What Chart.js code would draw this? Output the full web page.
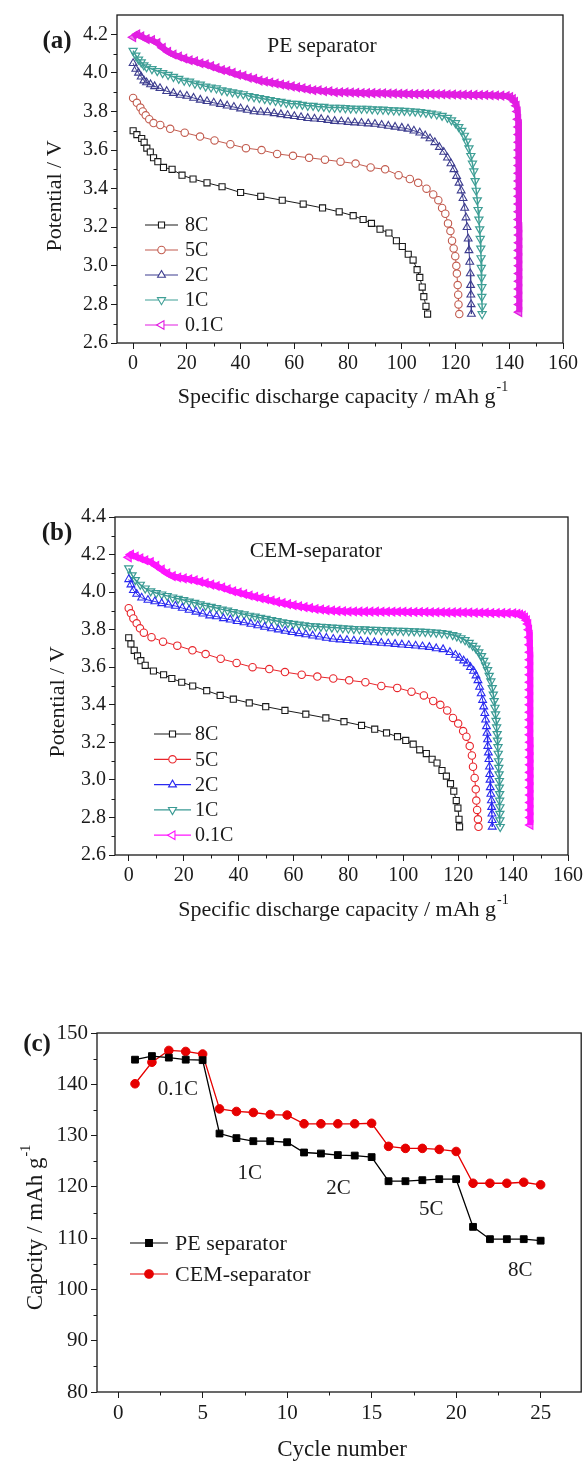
<!DOCTYPE html>
<html>
<head>
<meta charset="utf-8">
<title>Curvas de descarga y capacidad por ciclo</title>
<script src="https://cdn.jsdelivr.net/npm/chart.js@4.4.1/dist/chart.umd.min.js"></script>
<style>
  html, body { margin: 0; padding: 0; background: #fff; }
  body { width: 587px; height: 1462px; position: relative; overflow: hidden; }
  canvas { position: absolute; left: 0; }
  #panelA { top: 0; }
  #panelB { top: 500px; }
  #panelC { top: 960px; }
</style>
</head>
<body>
<canvas id="panelA" width="587" height="430"></canvas>
<canvas id="panelB" width="587" height="430"></canvas>
<canvas id="panelC" width="587" height="502"></canvas>
<script>
// 📊 Datos
const tasas = ["8C", "5C", "2C", "1C", "0.1C"];

// (a) separador PE: capacidad (mAh/g) y potencial (V)
const capA_8C = [0, 1.4, 3.2, 4.1, 5.1, 6.4, 7.6, 9.2, 11.3, 14.5, 18.2, 22.3, 27.5, 33.1, 40.0, 47.5, 55.5, 63.3, 70.5, 76.7, 81.9, 85.6, 88.7, 91.9, 95.2, 98.0, 100.2, 102.4, 104.2, 105.7, 106.7, 107.6, 108.2, 109.0, 109.6];
const potA_8C = [3.70, 3.68, 3.66, 3.64, 3.61, 3.59, 3.56, 3.54, 3.51, 3.50, 3.47, 3.45, 3.43, 3.41, 3.38, 3.36, 3.34, 3.32, 3.30, 3.28, 3.26, 3.24, 3.22, 3.19, 3.17, 3.13, 3.10, 3.06, 3.03, 2.98, 2.94, 2.89, 2.84, 2.79, 2.75];

const capA_5C = [0, 1.4, 2.7, 3.6, 4.7, 6.0, 7.6, 10.1, 13.8, 19.2, 24.9, 30.3, 36.2, 42.0, 47.8, 53.6, 59.5, 65.5, 71.4, 77.2, 82.8, 88.4, 93.8, 98.8, 103.0, 106.1, 109.2, 111.7, 113.6, 115.0, 116.2, 117.2, 118.1, 118.7, 119.3, 119.9, 120.3, 120.5, 120.8, 121.0, 121.1, 121.4];
const potA_5C = [3.87, 3.845, 3.82, 3.80, 3.78, 3.76, 3.74, 3.73, 3.71, 3.69, 3.67, 3.65, 3.63, 3.61, 3.60, 3.58, 3.57, 3.56, 3.55, 3.54, 3.53, 3.51, 3.50, 3.47, 3.45, 3.43, 3.40, 3.37, 3.34, 3.30, 3.27, 3.22, 3.18, 3.13, 3.09, 3.05, 3.00, 2.96, 2.90, 2.85, 2.80, 2.75];

const capA_2C = [0, 1, 2, 3, 4, 5, 6.5, 8, 10, 12.5, 15, 17.5, 20, 22.5, 25, 27.5, 30, 32.5, 35, 37.5, 40, 42.5, 45, 47.5, 50, 52.5, 55, 57.5, 60, 62.5, 65, 67.5, 70, 72.5, 75, 77.5, 80, 82.5, 85, 87.5, 90, 92.5, 95, 97.5, 100, 102.3, 104.5, 106.7, 108.7, 110.5, 112.3, 114, 115.6, 117, 118.3, 119.4, 120.4, 121.3, 122.1, 122.8, 123.4, 123.9, 124.3, 124.7, 125.0, 125.3, 125.5, 125.6, 125.7, 125.8, 125.9];
const potA_2C = [4.05, 4.02, 4.00, 3.98, 3.96, 3.95, 3.94, 3.93, 3.92, 3.905, 3.895, 3.885, 3.88, 3.87, 3.86, 3.853, 3.845, 3.838, 3.83, 3.823, 3.815, 3.808, 3.80, 3.797, 3.795, 3.79, 3.785, 3.78, 3.775, 3.77, 3.765, 3.762, 3.76, 3.755, 3.75, 3.748, 3.745, 3.742, 3.74, 3.737, 3.735, 3.73, 3.725, 3.72, 3.715, 3.71, 3.70, 3.69, 3.675, 3.66, 3.64, 3.615, 3.59, 3.56, 3.53, 3.50, 3.465, 3.43, 3.39, 3.35, 3.30, 3.25, 3.20, 3.14, 3.08, 3.02, 2.96, 2.90, 2.85, 2.80, 2.75];

const capA_1C = [0, 1, 2, 3, 4, 5, 7, 9, 11, 13, 15, 17, 19, 21, 23, 25, 27, 29, 31, 33, 35, 37, 39, 41, 43, 45, 47, 49, 51, 53, 55, 57, 59, 61, 63, 65, 67, 69, 71, 73, 75, 77, 79, 81, 83, 85, 87, 89, 91, 93, 95, 97, 99, 101, 103, 105, 107, 109, 111, 113, 115, 117, 118.5, 120, 121.2, 122.3, 123.3, 124.2, 125, 125.7, 126.3, 126.8, 127.3, 127.7, 128.1, 128.4, 128.7, 129, 129.2, 129.4, 129.5, 129.6, 129.7, 129.8, 129.8, 129.9, 129.9];
const potA_1C = [4.115, 4.09, 4.07, 4.055, 4.04, 4.03, 4.02, 4.01, 4.00, 3.99, 3.98, 3.97, 3.96, 3.955, 3.945, 3.94, 3.93, 3.925, 3.92, 3.91, 3.905, 3.90, 3.895, 3.89, 3.88, 3.875, 3.87, 3.865, 3.86, 3.855, 3.85, 3.845, 3.84, 3.84, 3.835, 3.83, 3.83, 3.825, 3.825, 3.82, 3.82, 3.82, 3.818, 3.816, 3.815, 3.815, 3.815, 3.812, 3.81, 3.81, 3.808, 3.806, 3.805, 3.804, 3.802, 3.80, 3.797, 3.794, 3.79, 3.785, 3.778, 3.768, 3.755, 3.74, 3.72, 3.70, 3.675, 3.645, 3.61, 3.57, 3.53, 3.49, 3.44, 3.39, 3.34, 3.29, 3.24, 3.19, 3.14, 3.09, 3.04, 2.99, 2.94, 2.89, 2.84, 2.79, 2.75];

const capA_01C = [0, 1.5, 3, 5, 7, 9, 11, 13, 15, 17, 19, 21, 23, 25, 27, 29, 31, 33, 35, 37, 39, 41, 43, 45, 47, 49, 51, 53, 55, 57, 59, 61, 63, 65, 67, 69, 71, 73, 75, 77, 79, 81, 83, 85, 87, 89, 91, 93, 95, 97, 99, 101, 103, 105, 107, 109, 111, 113, 115, 117, 119, 121, 123, 125, 127, 129, 131, 133, 135, 137, 139, 140.3, 141.3, 142.1, 142.7, 143.1, 143.3, 143.5, 143.6, 143.6, 143.6, 143.6, 143.6, 143.6, 143.6, 143.6, 143.6, 143.6, 143.6, 143.6, 143.7, 143.7, 143.7, 143.7, 143.7, 143.7, 143.7, 143.7, 143.7, 143.7, 143.7, 143.7];
const potA_01C = [4.185, 4.20, 4.19, 4.175, 4.17, 4.155, 4.13, 4.11, 4.095, 4.085, 4.075, 4.065, 4.06, 4.05, 4.045, 4.035, 4.025, 4.015, 4.01, 4.00, 3.99, 3.985, 3.975, 3.97, 3.96, 3.955, 3.95, 3.945, 3.94, 3.935, 3.93, 3.925, 3.92, 3.915, 3.91, 3.91, 3.905, 3.905, 3.90, 3.90, 3.90, 3.898, 3.897, 3.896, 3.895, 3.895, 3.894, 3.894, 3.893, 3.893, 3.892, 3.892, 3.891, 3.891, 3.89, 3.89, 3.89, 3.889, 3.889, 3.888, 3.888, 3.887, 3.887, 3.886, 3.886, 3.885, 3.885, 3.884, 3.883, 3.882, 3.88, 3.875, 3.865, 3.85, 3.83, 3.80, 3.76, 3.72, 3.68, 3.64, 3.60, 3.56, 3.52, 3.48, 3.44, 3.40, 3.36, 3.32, 3.28, 3.24, 3.20, 3.16, 3.12, 3.08, 3.04, 3.00, 2.96, 2.92, 2.88, 2.84, 2.80, 2.76];

// (b) separador CEM
const capB_8C = [0, 0.8, 2.0, 3.2, 4.4, 6.0, 9.0, 12.7, 15.7, 19.3, 23.3, 28.4, 33.3, 38.1, 43.9, 49.9, 56.9, 64.5, 71.8, 78.4, 84.8, 89.6, 93.9, 97.9, 100.9, 103.6, 106.0, 108.4, 110.5, 112.3, 114.1, 115.7, 117.2, 118.4, 119.3, 119.9, 120.3, 120.5];
const potB_8C = [3.757, 3.724, 3.69, 3.66, 3.635, 3.61, 3.58, 3.56, 3.54, 3.52, 3.50, 3.475, 3.45, 3.43, 3.41, 3.39, 3.37, 3.35, 3.33, 3.31, 3.29, 3.27, 3.25, 3.23, 3.21, 3.19, 3.16, 3.14, 3.11, 3.09, 3.05, 3.02, 2.98, 2.94, 2.89, 2.85, 2.79, 2.75];

const capB_5C = [0, 0.8, 1.7, 2.9, 4.1, 5.5, 8.3, 12.5, 17.7, 23.2, 28.0, 33.5, 39.3, 45.1, 51.2, 56.9, 63.0, 68.7, 74.5, 80.3, 86.2, 92.0, 97.8, 103.0, 107.5, 110.9, 113.5, 116.0, 118.1, 120.0, 121.8, 123.0, 124.2, 125.0, 125.4, 126.0, 126.4, 126.6, 126.9, 127.2, 127.4];
const potB_5C = [3.914, 3.887, 3.86, 3.834, 3.807, 3.784, 3.76, 3.736, 3.715, 3.69, 3.67, 3.645, 3.623, 3.60, 3.59, 3.574, 3.56, 3.55, 3.54, 3.53, 3.52, 3.50, 3.49, 3.47, 3.45, 3.42, 3.40, 3.37, 3.33, 3.30, 3.26, 3.23, 3.18, 3.13, 3.07, 3.01, 2.95, 2.89, 2.84, 2.79, 2.75];

const capB_2C = [0, 0.8, 1.7, 2.9, 4.7, 7, 9.5, 12, 14.5, 17, 19.5, 22, 24.5, 27, 29.5, 32, 34.5, 37, 39.5, 42, 44.5, 47, 49.5, 52, 54.5, 57, 59.5, 62, 64.5, 67, 69.5, 72, 74.5, 77, 79.5, 82, 84.5, 87, 89.5, 92, 94.5, 97, 99.5, 102, 104.5, 107, 109.5, 112, 114.5, 117, 119, 120.5, 122, 123.3, 124.5, 125.6, 126.5, 127.2, 127.8, 128.4, 128.9, 129.3, 129.7, 130, 130.3, 130.5, 130.7, 130.8, 131, 131.2, 131.4, 131.5, 131.6, 131.7, 131.9, 132.1, 132.2, 132.3, 132.4, 132.4];
const potB_2C = [4.068, 4.04, 4.01, 3.99, 3.97, 3.958, 3.95, 3.94, 3.933, 3.926, 3.915, 3.905, 3.895, 3.885, 3.875, 3.87, 3.86, 3.853, 3.845, 3.838, 3.83, 3.822, 3.814, 3.806, 3.80, 3.793, 3.786, 3.78, 3.774, 3.768, 3.762, 3.756, 3.75, 3.747, 3.744, 3.741, 3.738, 3.735, 3.732, 3.729, 3.726, 3.723, 3.72, 3.717, 3.714, 3.71, 3.707, 3.70, 3.695, 3.68, 3.665, 3.65, 3.635, 3.62, 3.60, 3.58, 3.555, 3.53, 3.495, 3.46, 3.425, 3.39, 3.355, 3.32, 3.285, 3.25, 3.215, 3.18, 3.145, 3.11, 3.07, 3.03, 3.00, 2.96, 2.925, 2.89, 2.855, 2.82, 2.785, 2.75];

const capB_1C = [0, 1.2, 2.4, 4.2, 6, 8, 10, 12, 14, 16, 18, 20, 22, 24, 26, 28, 30, 32, 34, 36, 38, 40, 42, 44, 46, 48, 50, 52, 54, 56, 58, 60, 62, 64, 66, 68, 70, 72, 74, 76, 78, 80, 82, 84, 86, 88, 90, 92, 94, 96, 98, 100, 102, 104, 106, 108, 110, 112, 114, 116, 118, 119.5, 121, 122.5, 124, 125.3, 126.5, 127.5, 128.5, 129.3, 130, 130.7, 131.3, 131.9, 132.4, 132.8, 133.1, 133.4, 133.6, 133.8, 134, 134.2, 134.3, 134.5, 134.6, 134.7, 134.8, 134.9, 135, 135, 135.1, 135.1, 135.2, 135.2, 135.2, 135.3];
const potB_1C = [4.127, 4.09, 4.065, 4.04, 4.02, 4.005, 3.995, 3.988, 3.98, 3.972, 3.965, 3.958, 3.95, 3.943, 3.935, 3.928, 3.922, 3.915, 3.908, 3.902, 3.895, 3.888, 3.882, 3.875, 3.87, 3.864, 3.858, 3.852, 3.846, 3.84, 3.836, 3.832, 3.828, 3.824, 3.82, 3.818, 3.816, 3.814, 3.812, 3.81, 3.808, 3.806, 3.804, 3.803, 3.802, 3.80, 3.80, 3.798, 3.797, 3.796, 3.795, 3.794, 3.793, 3.792, 3.79, 3.789, 3.787, 3.785, 3.782, 3.778, 3.772, 3.765, 3.755, 3.745, 3.73, 3.715, 3.70, 3.68, 3.66, 3.635, 3.61, 3.585, 3.555, 3.525, 3.49, 3.455, 3.42, 3.385, 3.35, 3.315, 3.28, 3.245, 3.21, 3.175, 3.14, 3.10, 3.065, 3.03, 2.995, 2.96, 2.925, 2.89, 2.855, 2.82, 2.785, 2.75];

const capB_01C = [0, 0.8, 2.5, 4.2, 6, 8, 10, 12, 14, 16, 18, 20, 22, 24, 26, 28, 30, 32, 34, 36, 38, 40, 42, 44, 46, 48, 50, 52, 54, 56, 58, 60, 62, 64, 66, 68, 70, 72, 74, 76, 78, 80, 82, 84, 86, 88, 90, 92, 94, 96, 98, 100, 102, 104, 106, 108, 110, 112, 114, 116, 118, 120, 122, 124, 126, 128, 130, 132, 134, 136, 138, 140, 141.5, 142.5, 143.5, 144.3, 145, 145.5, 145.8, 146, 146.1, 146.2, 146.2, 146.2, 146.2, 146.2, 146.2, 146.2, 146.2, 146.2, 146.2, 146.2, 146.2, 146.3, 146.3, 146.3, 146.3, 146.3, 146.3, 146.3, 146.3, 146.3, 146.3, 146.3, 146.3];
const potB_01C = [4.185, 4.20, 4.19, 4.18, 4.17, 4.16, 4.14, 4.12, 4.10, 4.085, 4.078, 4.073, 4.068, 4.063, 4.055, 4.048, 4.04, 4.033, 4.025, 4.015, 4.005, 3.998, 3.99, 3.982, 3.975, 3.968, 3.962, 3.955, 3.948, 3.942, 3.936, 3.93, 3.925, 3.92, 3.915, 3.91, 3.907, 3.904, 3.902, 3.90, 3.898, 3.897, 3.897, 3.896, 3.896, 3.896, 3.896, 3.895, 3.895, 3.895, 3.895, 3.895, 3.894, 3.894, 3.894, 3.894, 3.893, 3.893, 3.893, 3.892, 3.892, 3.892, 3.891, 3.891, 3.89, 3.89, 3.89, 3.889, 3.889, 3.888, 3.888, 3.887, 3.885, 3.88, 3.875, 3.865, 3.85, 3.83, 3.80, 3.76, 3.72, 3.68, 3.64, 3.60, 3.56, 3.52, 3.48, 3.44, 3.40, 3.36, 3.32, 3.28, 3.24, 3.20, 3.16, 3.12, 3.08, 3.04, 3.00, 2.96, 2.92, 2.88, 2.84, 2.80, 2.76];

// (c) capacidad por ciclo
const ciclos = [1, 2, 3, 4, 5, 6, 7, 8, 9, 10, 11, 12, 13, 14, 15, 16, 17, 18, 19, 20, 21, 22, 23, 24, 25];
const capPE = [144.8, 145.5, 145.2, 144.8, 144.7, 130.4, 129.5, 128.9, 128.9, 128.7, 126.7, 126.5, 126.2, 126.1, 125.8, 121.1, 121.1, 121.3, 121.5, 121.5, 112.2, 109.8, 109.8, 109.8, 109.5];
const capCEM = [140.1, 144.3, 146.6, 146.4, 145.9, 135.2, 134.7, 134.5, 134.1, 134.0, 132.3, 132.3, 132.3, 132.3, 132.4, 127.9, 127.5, 127.5, 127.3, 126.9, 120.7, 120.7, 120.7, 120.9, 120.4];
const etiquetasC = ["0.1C", "1C", "2C", "5C", "8C"];

// 🔢 Marcas de los ejes
const ticksCap = [0, 20, 40, 60, 80, 100, 120, 140, 160];
const ticksPotA = [2.6, 2.8, 3.0, 3.2, 3.4, 3.6, 3.8, 4.0, 4.2];
const ticksPotB = [2.6, 2.8, 3.0, 3.2, 3.4, 3.6, 3.8, 4.0, 4.2, 4.4];
const ticksCiclo = [0, 5, 10, 15, 20, 25];
const ticksCapC = [80, 90, 100, 110, 120, 130, 140, 150];

const FUENTE = '"Liberation Serif", "Times New Roman", serif';
const TINTA = "#1a1a1a";

// 🎨 Estilos de marcador por tasa (mismo orden que `tasas`)
const marcas = [
  { estilo: "rect", radio: 4.3, giro: 0, linea: 1, trazo: 1.1 },
  { estilo: "circle", radio: 3.7, giro: 0, linea: 1, trazo: 1.1 },
  { estilo: "triangle", radio: 4.5, giro: 0, linea: 1, trazo: 1.1 },
  { estilo: "triangle", radio: 4.7, giro: 180, linea: 1.5, trazo: 1.2 },
  { estilo: "triangle", radio: 4.9, giro: -90, linea: 6, trazo: 1.2 },
];

function seriesDescarga(caps, pots, colores) {
  return tasas.map((nombre, i) => ({
    label: nombre,
    data: caps[i].map((x, j) => ({ x: x, y: pots[i][j] })),
    showLine: true,
    borderColor: colores[i],
    borderWidth: marcas[i].linea,
    pointStyle: marcas[i].estilo,
    pointRotation: marcas[i].giro,
    pointRadius: marcas[i].radio,
    pointBorderWidth: marcas[i].trazo,
    pointBorderColor: colores[i],
    pointBackgroundColor: i < 2 ? "#fff" : i === 4 ? colores[i] + "99" : "rgba(0,0,0,0)",
  }));
}

// ✏️ Texto con superíndice (p. ej. "g-1")
function textoSuper(ctx, base, sup, cx, cy, size, rotado) {
  ctx.save();
  ctx.translate(cx, cy);
  if (rotado) ctx.rotate(-Math.PI / 2);
  const fBase = `${size}px ${FUENTE}`;
  const fSup = `${Math.round(size * 0.62)}px ${FUENTE}`;
  ctx.font = fBase;
  const w1 = ctx.measureText(base).width;
  ctx.font = fSup;
  const w2 = sup ? ctx.measureText(sup).width + 1 : 0;
  const x0 = -(w1 + w2) / 2;
  ctx.fillStyle = TINTA;
  ctx.textAlign = "left";
  ctx.textBaseline = "middle";
  ctx.font = fBase;
  ctx.fillText(base, x0, 0);
  if (sup) {
    ctx.font = fSup;
    ctx.fillText(sup, x0 + w1 + 1, -size * 0.42);
  }
  ctx.restore();
}

function marcaLeyenda(ctx, ds, x, y, relleno) {
  ctx.fillStyle = relleno || ds.pointBackgroundColor;
  ctx.strokeStyle = ds.pointBorderColor;
  ctx.lineWidth = 1.1;
  const opciones = { pointStyle: ds.pointStyle, rotation: ds.pointRotation, radius: ds.pointRadius, borderWidth: 1.1 };
  if (Chart.helpers && Chart.helpers.drawPoint) {
    Chart.helpers.drawPoint(ctx, opciones, x, y);
  } else {
    ctx.beginPath();
    ctx.arc(x, y, ds.pointRadius, 0, Math.PI * 2);
    ctx.fill();
    ctx.stroke();
  }
}

// 🔧 Marco, marcas menores, títulos, notas y leyenda
const decoPlugin = {
  id: "deco",
  afterDraw(chart, args, op) {
    const ctx = chart.ctx;
    const a = chart.chartArea;
    const sx = chart.scales.x;
    const sy = chart.scales.y;
    ctx.save();

    ctx.strokeStyle = TINTA;
    ctx.lineWidth = 1.3;
    ctx.strokeRect(a.left, a.top, a.right - a.left, a.bottom - a.top);

    // marcas menores a mitad de cada paso
    ctx.lineWidth = 1;
    [[sx, true], [sy, false]].forEach(([esc, horiz]) => {
      const vals = esc.ticks.map((t) => t.value);
      const paso = vals[1] - vals[0];
      const menores = [];
      vals.forEach((v) => { menores.push(v - paso / 2, v + paso / 2); });
      [...new Set(menores.map((m) => +m.toFixed(4)))]
        .filter((m) => m > esc.min && m < esc.max)
        .forEach((m) => {
          const p = Math.round(esc.getPixelForValue(m)) + 0.5;
          ctx.beginPath();
          if (horiz) { ctx.moveTo(p, a.bottom); ctx.lineTo(p, a.bottom + 3.5); }
          else { ctx.moveTo(a.left - 3.5, p); ctx.lineTo(a.left, p); }
          ctx.stroke();
        });
    });

    ctx.fillStyle = TINTA;
    ctx.textAlign = "center";
    ctx.textBaseline = "middle";
    ctx.font = `bold 25px ${FUENTE}`;
    ctx.fillText(op.letra.texto, op.letra.x, op.letra.y);

    ctx.font = `${op.notas.size}px ${FUENTE}`;
    op.notas.textos.forEach((t, i) => {
      ctx.fillText(t, sx.getPixelForValue(op.notas.x[i]), sy.getPixelForValue(op.notas.y[i]));
    });

    const cx = (a.left + a.right) / 2;
    const cy = (a.top + a.bottom) / 2;
    textoSuper(ctx, op.tituloX.base, op.tituloX.sup, cx + op.tituloX.dx, a.bottom + op.tituloX.dy, op.tituloX.size, false);
    textoSuper(ctx, op.tituloY.base, op.tituloY.sup, op.tituloY.x, cy + op.tituloY.dy, op.tituloY.size, true);

    const ley = op.leyenda;
    chart.data.datasets.forEach((ds, i) => {
      const y = a.top + ley.y0 + i * ley.paso;
      ctx.strokeStyle = ds.borderColor;
      ctx.lineWidth = 1.2;
      ctx.beginPath();
      ctx.moveTo(a.left + ley.x0, y);
      ctx.lineTo(a.left + ley.x1, y);
      ctx.stroke();
      marcaLeyenda(ctx, ds, a.left + (ley.x0 + ley.x1) / 2, y, ley.relleno);
      ctx.fillStyle = TINTA;
      ctx.font = `${ley.size}px ${FUENTE}`;
      ctx.textAlign = "left";
      ctx.textBaseline = "middle";
      ctx.fillText(ds.label, a.left + ley.xt, y + 1);
    });
    ctx.restore();
  },
};

function eje(pos, min, max, marcasEje, tam, tamFuente, formato) {
  return {
    type: "linear",
    position: pos,
    min: min,
    max: max,
    afterBuildTicks: (s) => { s.ticks = marcasEje.map((v) => ({ value: v })); },
    afterFit: (s) => { if (pos === "bottom") s.height = tam; else s.width = tam; },
    grid: { drawOnChartArea: false, drawTicks: true, tickLength: 6, color: TINTA, lineWidth: 1 },
    border: { display: false },
    ticks: {
      autoSkip: false,
      maxRotation: 0,
      padding: 3,
      color: TINTA,
      font: { family: FUENTE, size: tamFuente },
      callback: formato,
    },
  };
}

function crearPanel(id, datasets, cfg) {
  return new Chart(document.getElementById(id), {
    type: "scatter",
    data: { datasets: datasets },
    options: {
      responsive: false,
      animation: false,
      layout: { padding: { top: cfg.arriba, right: cfg.derecha, left: 0, bottom: 0 } },
      plugins: { legend: { display: false }, tooltip: { enabled: false }, deco: cfg.deco },
      scales: { x: cfg.x, y: cfg.y },
    },
    plugins: [decoPlugin],
  });
}

document.addEventListener("DOMContentLoaded", function () {
  const fmt1 = (v) => v.toFixed(1);
  const fmt0 = (v) => String(v);

  // (a) PE separator
  const coloresA = [TINTA, "#c25b4e", "#3d3d8f", "#3f9f96", "#e21ee2"];
  crearPanel("panelA", seriesDescarga(
    [capA_8C, capA_5C, capA_2C, capA_1C, capA_01C],
    [potA_8C, potA_5C, potA_2C, potA_1C, potA_01C], coloresA), {
    arriba: 13, derecha: 24,
    x: eje("bottom", -6, 160, ticksCap, 87, 20, fmt0),
    y: eje("left", 2.6, 4.3, ticksPotA, 117, 20, fmt1),
    deco: {
      letra: { texto: "(a)", x: 57, y: 42 },
      notas: { textos: ["PE separator"], x: [70.3], y: [4.135], size: 21.5 },
      tituloX: { base: "Specific discharge capacity / mAh g", sup: "-1", dx: 3, dy: 54, size: 22 },
      tituloY: { base: "Potential / V", sup: "", x: 55, dy: 17, size: 22 },
      leyenda: { x0: 28, x1: 61, xt: 68, y0: 210, paso: 25, size: 20, relleno: "#fff" },
    },
  });

  // (b) CEM-separator
  const coloresB = [TINTA, "#e8252b", "#2a2af0", "#3a9a94", "#ff14ff"];
  crearPanel("panelB", seriesDescarga(
    [capB_8C, capB_5C, capB_2C, capB_1C, capB_01C],
    [potB_8C, potB_5C, potB_2C, potB_1C, potB_01C], coloresB), {
    arriba: 17, derecha: 19,
    x: eje("bottom", -5, 160, ticksCap, 75, 20, fmt0),
    y: eje("left", 2.6, 4.4, ticksPotB, 115, 20, fmt1),
    deco: {
      letra: { texto: "(b)", x: 57, y: 534 - 500 },
      notas: { textos: ["CEM-separator"], x: [68.2], y: [4.219], size: 21.5 },
      tituloX: { base: "Specific discharge capacity / mAh g", sup: "-1", dx: 2, dy: 55, size: 22 },
      tituloY: { base: "Potential / V", sup: "", x: 58, dy: 16, size: 22 },
      leyenda: { x0: 39, x1: 76, xt: 80, y0: 217, paso: 25.3, size: 20, relleno: "#fff" },
    },
  });

  // (c) capacidad frente a ciclo
  const seriesC = [
    { label: "PE separator", data: ciclos.map((c, i) => ({ x: c, y: capPE[i] })), color: "#000", estilo: "rect", radio: 4.8 },
    { label: "CEM-separator", data: ciclos.map((c, i) => ({ x: c, y: capCEM[i] })), color: "#e60000", estilo: "circle", radio: 4.3 },
  ].map((s) => ({
    label: s.label,
    data: s.data,
    showLine: true,
    borderColor: s.color,
    borderWidth: 1.3,
    pointStyle: s.estilo,
    pointRadius: s.radio,
    pointBorderWidth: 1,
    pointBorderColor: s.color,
    pointBackgroundColor: s.color,
  }));

  crearPanel("panelC", seriesC, {
    arriba: 73, derecha: 5,
    x: eje("bottom", -1.25, 27.4, ticksCiclo, 70, 21, fmt0),
    y: eje("left", 80, 150, ticksCapC, 97, 21, fmt0),
    deco: {
      letra: { texto: "(c)", x: 37, y: 1045 - 960 },
      notas: { textos: etiquetasC, x: [3.53, 7.79, 13.04, 18.53, 23.79], y: [138.9, 122.7, 119.6, 115.5, 103.6], size: 21 },
      tituloX: { base: "Cycle number", sup: "", dx: 3, dy: 58, size: 23 },
      tituloY: { base: "Capcity / mAh g", sup: "-1", x: 36, dy: 15, size: 23 },
      leyenda: { x0: 33, x1: 71, xt: 78, y0: 210, paso: 31, size: 22, relleno: null },
    },
  });

  console.log("✅ Paneles dibujados");
});
</script>
</body>
</html>
